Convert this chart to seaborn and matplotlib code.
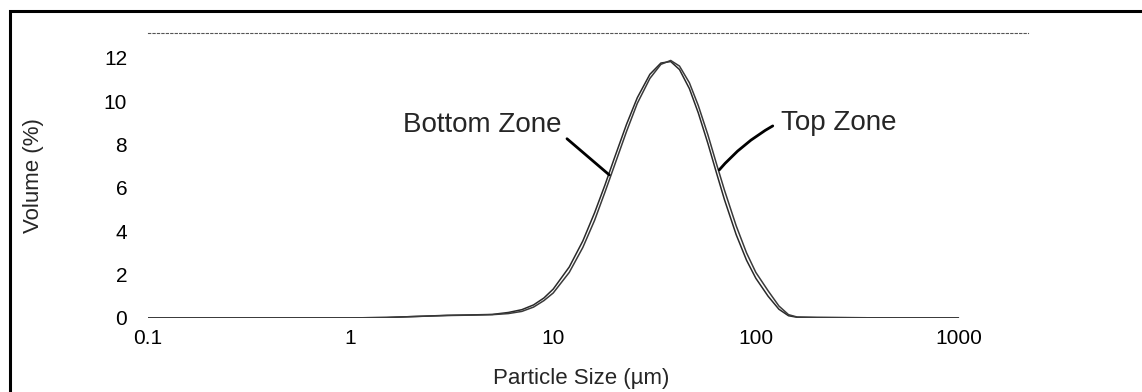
import matplotlib
matplotlib.use("Agg")
import matplotlib.pyplot as plt
from matplotlib import font_manager
from matplotlib.patches import Rectangle
import seaborn as sns
import pandas as pd

# ---- data ----
sizes = [0.1, 0.5, 1, 1.5, 2, 3, 4, 5, 6, 7, 8, 9, 10, 12, 14, 16, 18, 20, 23, 26,
         30, 34, 38, 42, 47, 52, 58, 64, 70, 80, 90, 100, 115, 130, 145, 160, 200,
         300, 500, 1000]
bottom_zone = [0, 0, 0, 0.02, 0.06, 0.12, 0.14, 0.16, 0.25, 0.38, 0.6, 0.92, 1.33,
               2.35, 3.55, 4.85, 6.13, 7.35, 8.93, 10.16, 11.24, 11.76, 11.83, 11.46,
               10.58, 9.46, 8.05, 6.68, 5.46, 3.84, 2.66, 1.83, 1.0, 0.4, 0.1, 0.03,
               0.02, 0.01, 0, 0]
top_zone = [0, 0, 0, 0.02, 0.06, 0.11, 0.13, 0.15, 0.2, 0.3, 0.5, 0.8, 1.15,
            2.1, 3.25, 4.5, 5.8, 7.0, 8.6, 9.9, 11.05, 11.7, 11.88, 11.62,
            10.85, 9.8, 8.45, 7.1, 5.9, 4.25, 3.0, 2.1, 1.25, 0.55, 0.15, 0.04,
            0.02, 0.01, 0, 0]
series_names = ["Bottom Zone", "Top Zone"]
x_ticks = [0.1, 1, 10, 100, 1000]
x_tick_labels = ["0.1", "1", "10", "100", "1000"]
y_ticks = [0, 2, 4, 6, 8, 10, 12]

df = pd.concat([
    pd.DataFrame({"size": sizes, "volume": bottom_zone, "zone": series_names[0]}),
    pd.DataFrame({"size": sizes, "volume": top_zone, "zone": series_names[1]}),
])

sns.set_style("white")
names = {f.name for f in font_manager.fontManager.ttflist}
if "Liberation Sans Narrow" in names:
    fam = ["Liberation Sans Narrow", "DejaVu Sans"]
    k = 1.2
else:
    fam = ["Liberation Sans", "DejaVu Sans"]
    k = 1.0
plt.rcParams["font.family"] = fam

fig = plt.figure(figsize=(11.42, 3.92), dpi=100)
ax = fig.add_axes([0.1296, 0.189, 0.9 - 0.1296, 0.916 - 0.189])

sns.lineplot(data=df, x="size", y="volume", hue="zone",
             palette={"Bottom Zone": "#2a2a2a", "Top Zone": "#3a3a3a"},
             linewidth=1.1, legend=False, ax=ax, sort=False)

ax.set_xscale("log")
ax.set_xlim(0.1, 2200)
ax.set_ylim(0, 13.15)
ax.set_xticks(x_ticks)
ax.set_xticklabels(x_tick_labels)
ax.set_yticks(y_ticks)
ax.minorticks_off()
ax.tick_params(axis="both", length=0, labelsize=15 * k, colors="black")
ax.tick_params(axis="y", pad=15)
ax.tick_params(axis="x", pad=8)

for s in ["left", "right", "bottom"]:
    ax.spines[s].set_visible(False)
ax.spines["top"].set_linestyle((0, (2, 2)))
ax.spines["top"].set_color("#555555")
ax.spines["top"].set_linewidth(0.8)

ax.set_xlabel("Particle Size (µm)", fontsize=16 * k, labelpad=14)
ax.set_ylabel("Volume (%)", fontsize=16 * k, labelpad=43)
ax.xaxis.set_label_coords(0.492, -0.175)

ax.annotate("Bottom Zone", xy=(18.9, 6.6), xytext=(11.0, 8.9),
            ha="right", va="center", fontsize=20 * k,
            arrowprops=dict(arrowstyle="-", lw=2, color="black",
                            relpos=(1.0, 0.15), shrinkA=2, shrinkB=0))
ax.annotate("Top Zone", xy=(66, 6.83), xytext=(133, 9.0),
            ha="left", va="center", fontsize=20 * k,
            arrowprops=dict(arrowstyle="-", lw=2, color="black",
                            relpos=(0.0, 0.55), shrinkA=4, shrinkB=0,
                            connectionstyle="arc3,rad=0.1"))

fig.patches.append(Rectangle((10 / 1142, -0.05), 1.2, 1.05 - 11 / 392,
                             transform=fig.transFigure, fill=False,
                             edgecolor="black", linewidth=2.2, clip_on=False))

fig.savefig("out.png", dpi=100)
